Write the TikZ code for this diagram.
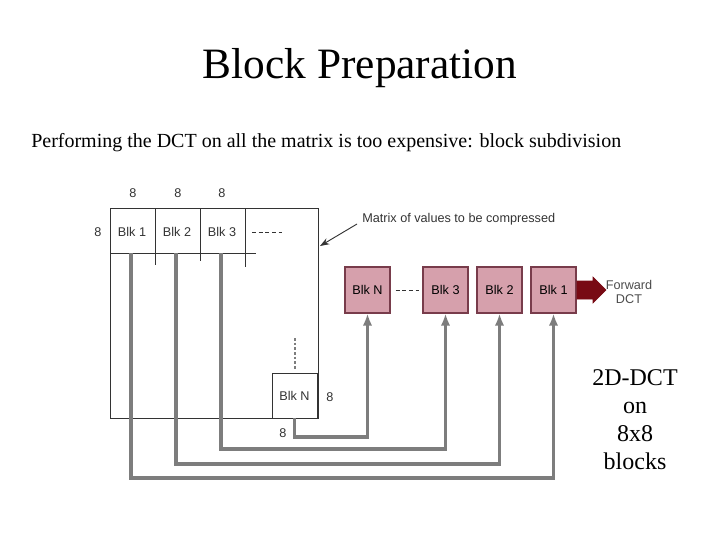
\documentclass[tikz,border=0pt]{standalone}
\usepackage{fontspec}
\setmainfont{Liberation Serif}
\newfontfamily\dsans{Liberation Sans}
\usetikzlibrary{arrows.meta,calc}
\definecolor{pinkbox}{RGB}{214,160,172}
\definecolor{pinkedge}{RGB}{120,60,75}
\definecolor{darkred}{RGB}{120,10,20}
\definecolor{gline}{RGB}{125,125,125}
\begin{document}
\begin{tikzpicture}[x=0.75pt,y=-0.75pt,
  lbl/.style={font=\dsans\fontsize{9.5}{10}\selectfont,text=black!80,inner sep=0pt},
  pbox/.style={draw=pinkedge,fill=pinkbox,minimum width=33.75pt,minimum height=34.5pt,inner sep=0pt,font=\dsans\fontsize{9.5}{10}\selectfont,line width=0.8pt},
  feed/.style={draw=gline,line width=2.4pt,-{Latex[length=9pt,width=7pt]}},
  thin/.style={draw=black!80,line width=0.7pt}]
\useasboundingbox (0,0) rectangle (720,540);
\node[font=\fontsize{32.5}{36}\selectfont] (title) at (360,68) {Block Preparation};
\node[anchor=west,font=\fontsize{15}{18}\selectfont,inner sep=0pt] (sub) at (31,143) {Performing the DCT on all the matrix is too expensive: block subdivision};
% matrix
\draw[thin] (110,208) rectangle (318,418);
\draw[thin] (110,253) -- (256,253);
\draw[thin] (155,208) -- (155,265);
\draw[thin] (200,208) -- (200,261);
\draw[thin] (245,208) -- (245,267);
\node[lbl] (b1) at (132,232) {Blk 1};
\node[lbl] (b2) at (177,232) {Blk 2};
\node[lbl] (b3) at (222,232) {Blk 3};
\draw[thin,dashed,dash pattern=on 3pt off 2pt] (252,232) -- (282,232);
\node[lbl] at (133,193) {8};
\node[lbl] at (178,193) {8};
\node[lbl] at (222,193) {8};
\node[lbl] at (98,232) {8};
\node[draw=black!80,line width=0.7pt,minimum width=33.75pt,minimum height=33.75pt,inner sep=0pt,font=\dsans\fontsize{9.5}{10}\selectfont,text=black!80] (bn) at (294.5,395.5) {Blk N};
\node[lbl] at (330,397) {8};
\node[lbl] at (283,433) {8};
\draw[gline,line width=0.8pt,dashed,dash pattern=on 2pt off 1.5pt] (295,338) -- (295,370);
% pink boxes
\node[pbox] (pN) at (367.5,290) {Blk N};
\node[pbox] (p3) at (445.5,290) {Blk 3};
\node[pbox] (p2) at (499.5,290) {Blk 2};
\node[pbox] (p1) at (553.5,290) {Blk 1};
\draw[thin,dashed,dash pattern=on 3pt off 2pt] ($(pN.east)+(5,0)$) -- ($(p3.west)+(-3,0)$);
\draw[darkred,fill=darkred] (577,281) -- (593,281) -- (593,277) -- (606,290) -- (593,303) -- (593,299) -- (577,299) -- cycle;
\node[font=\dsans\fontsize{9.5}{10.5}\selectfont,text=black!70,align=center,inner sep=0pt] (fwd) at (629,292) {Forward\\DCT};
% feed lines
\draw[feed] (131,253) -- (131,478) -- (p1.south |- 0,478) -- (p1.south);
\draw[feed] (176,253) -- (176,464) -- (p2.south |- 0,464) -- (p2.south);
\draw[feed] (221,253) -- (221,449) -- (p3.south |- 0,449) -- (p3.south);
\draw[feed] (bn.south) -- (bn.south |- 0,437) -- (pN.south |- 0,437) -- (pN.south);
% annotation
\node[lbl,anchor=west] (ann) at (362,219) {Matrix of values to be compressed};
\draw[thin,-{Stealth[length=7pt,width=5pt]}] (357,224) -- (320,246);
\node[font=\fontsize{18}{21}\selectfont,align=center] (dct) at (635,420) {2D-DCT\\on\\8x8\\blocks};
\end{tikzpicture}
\end{document}
